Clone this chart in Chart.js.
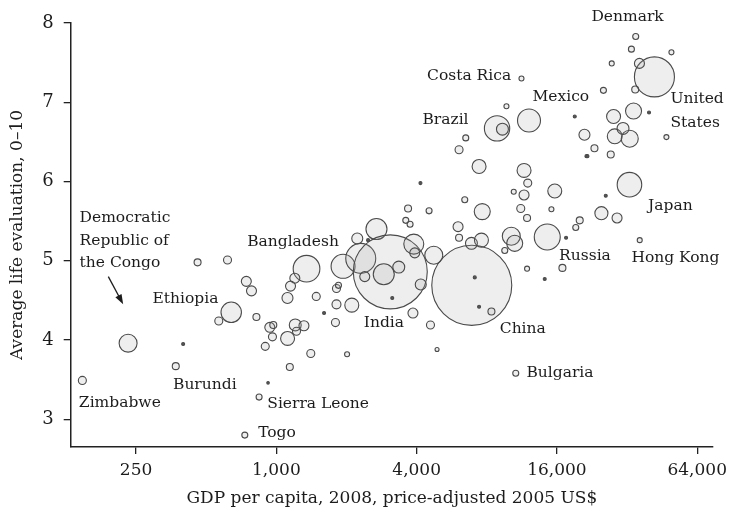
<!DOCTYPE html>
<html lang="en">
<head>
<meta charset="UTF-8">
<title>Life evaluation and GDP per capita, 2008</title>
<script src="https://cdn.jsdelivr.net/npm/chart.js"></script>
<style>
  body { margin: 0; background: #fff; }
  #wrap { width: 730px; height: 516px; }
</style>
</head>
<body>
<div id="wrap"><canvas id="lifeChart" width="730" height="516"></canvas></div>
<script>
    // axis ticks
    const xTicks = [250, 1000, 4000, 16000, 64000];
    const yTicks = [3, 4, 5, 6, 7, 8];

    // one entry per country: GDP per capita (2005 US$), life evaluation (0-10), population (millions)
    const gdpPerCapita = [
        147, 231, 398, 370, 459, 617, 640, 566, 743, 782,
        821, 937, 970, 962, 896, 1205, 1313, 1220, 1117, 1405,
        1142, 1602, 921, 843, 732, 1347, 1200, 1150, 1116, 1483,
        1811, 1847, 1811, 2107, 1793, 2011, 1933, 2302, 2224, 2689,
        2475, 3082, 2890, 3352, 2395, 3888, 3926, 4165, 3143, 3856,
        4585, 4893, 4737, 6896, 7103, 7412, 8375, 7648, 3674, 4522,
        3592, 3748, 6022, 6082, 6874, 7587, 6434, 7412, 11560, 11990,
        11560, 10440, 11190, 11910, 15660, 15150, 20040, 19270, 10190, 10540,
        9553, 14540, 17510, 11910, 16890, 14180, 21420, 4153, 11270, 9714,
        8853, 9337, 12140, 6498, 6082, 34850, 33400, 49600, 27500, 41930,
        36160, 34680, 25330, 19080, 39750, 34110, 28000, 28330, 32850, 30740,
        21000, 23180, 27230, 21630, 47200, 32760, 25920, 24830, 28980, 36260, 10650
    ];
    const lifeEvaluation = [
        3.49, 3.96, 3.95, 3.67, 4.98, 5.01, 4.35, 4.24, 4.74, 4.62,
        4.29, 4.16, 4.19, 4.04, 3.92, 4.19, 4.18, 4.11, 4.02, 3.83,
        3.66, 4.34, 3.46, 3.28, 2.80, 4.90, 4.78, 4.68, 4.53, 4.55,
        4.65, 4.69, 4.45, 4.44, 4.22, 3.82, 4.93, 5.03, 5.28, 5.40,
        5.26, 4.86, 4.83, 4.92, 4.80, 5.21, 5.10, 4.70, 4.53, 4.34,
        4.19, 3.88, 5.07, 4.69, 4.79, 4.42, 4.36, 5.62, 5.66, 5.63,
        5.51, 5.46, 5.43, 5.29, 5.22, 5.26, 5.77, 6.19, 6.14, 5.98,
        5.83, 5.87, 5.66, 5.54, 5.88, 5.65, 5.51, 5.42, 5.31, 5.22,
        5.13, 5.30, 5.29, 4.90, 4.91, 4.77, 6.32, 5.98, 7.30, 6.95,
        6.67, 6.66, 6.77, 6.55, 6.40, 7.83, 7.67, 7.63, 7.49, 7.32,
        7.49, 7.16, 7.15, 6.82, 6.87, 6.89, 6.82, 6.57, 6.54, 6.67,
        6.59, 6.42, 6.34, 6.32, 6.56, 5.96, 5.82, 5.60, 5.54, 5.26, 3.58
    ];
    const population = [
        13.5, 68, 1.9, 10.3, 10.3, 13.5, 88, 13.5, 21, 21,
        10.3, 21, 10.3, 13.5, 13.5, 30, 21, 13.5, 41, 13.5,
        10.3, 1.9, 1.4, 7.6, 7.6, 150, 21, 21, 25.5, 13.5,
        13.5, 7.6, 17, 41, 13.5, 5.3, 121, 189, 25.5, 93,
        1.9, 1152, 93, 30, 21, 84, 21, 25.5, 1.9, 21,
        13.5, 3.4, 68, 1347, 1.9, 1.9, 10.3, 54, 10.3, 7.6,
        7.6, 7.6, 21, 10.3, 30, 41, 7.6, 41, 41, 13.5,
        21, 5.3, 13.5, 10.3, 41, 5.3, 10.3, 7.6, 68, 54,
        7.6, 142, 1.9, 5.3, 10.3, 1.9, 1.9, 1.9, 5.3, 5.3,
        135, 30, 111, 7.6, 13.5, 7.6, 7.6, 5.3, 5.3, 337,
        21, 10.3, 7.6, 1.9, 1.9, 54, 41, 47, 61, 30,
        25.5, 10.3, 10.3, 1.9, 5.3, 127, 1.9, 36, 21, 5.3, 7.6
    ];

    // country names written on the chart, anchored at their left edge
    const labelText = ['Denmark', 'Costa Rica', 'Mexico', 'Brazil', 'United', 'States', 'Japan',
        'Russia', 'Hong Kong', 'China', 'Bulgaria', 'India', 'Bangladesh', 'Ethiopia',
        'Democratic', 'Republic of', 'the Congo', 'Zimbabwe', 'Burundi', 'Sierra Leone', 'Togo'];
    const labelGdp = [22500, 4432, 12560, 4236, 49120, 49120, 39380,
        16340, 33400, 9094, 11840, 2372, 749, 294,
        143, 143, 143, 142, 360, 914, 835];
    const labelLife = [8.076, 7.335, 7.07, 6.775, 7.037, 6.734, 5.689,
        5.058, 5.029, 4.145, 3.58, 4.221, 5.239, 4.515,
        5.534, 5.254, 4.97, 3.211, 3.429, 3.189, 2.832];

    // arrow from the Congo label to its bubble
    const arrowFrom = [190, 4.80];
    const arrowTo = [220, 4.45];

    const FONT = '"DejaVu Serif", serif';
    const INK = '#1c1c1c';

    const points = gdpPerCapita.map((g, i) => ({
        x: g,
        y: lifeEvaluation[i],
        r: 1.09 * Math.sqrt(population[i])
    }));

    // keep the plot area where the layout padding puts it
    function noPad(s) {
        s.paddingTop = 0; s.paddingBottom = 0;
        s.paddingLeft = 0; s.paddingRight = 0;
    }

    const annotate = {
        id: 'annotate',
        afterDatasetsDraw(chart) {
            const { ctx, scales: { x, y } } = chart;
            ctx.save();
            ctx.fillStyle = INK;
            ctx.font = '15.5px ' + FONT;
            ctx.textAlign = 'left';
            ctx.textBaseline = 'middle';
            labelText.forEach((t, i) => {
                ctx.fillText(t, x.getPixelForValue(labelGdp[i]), y.getPixelForValue(labelLife[i]));
            });

            // arrow
            const x0 = x.getPixelForValue(arrowFrom[0]), y0 = y.getPixelForValue(arrowFrom[1]);
            const x1 = x.getPixelForValue(arrowTo[0]), y1 = y.getPixelForValue(arrowTo[1]);
            const ang = Math.atan2(y1 - y0, x1 - x0);
            ctx.strokeStyle = INK;
            ctx.lineWidth = 1.3;
            ctx.beginPath();
            ctx.moveTo(x0, y0);
            ctx.lineTo(x1 - 6 * Math.cos(ang), y1 - 6 * Math.sin(ang));
            ctx.stroke();
            ctx.beginPath();
            ctx.moveTo(x1, y1);
            ctx.lineTo(x1 - 10 * Math.cos(ang) + 3.5 * Math.sin(ang), y1 - 10 * Math.sin(ang) - 3.5 * Math.cos(ang));
            ctx.lineTo(x1 - 10 * Math.cos(ang) - 3.5 * Math.sin(ang), y1 - 10 * Math.sin(ang) + 3.5 * Math.cos(ang));
            ctx.closePath();
            ctx.fill();
            ctx.restore();
        }
    };

    const ctx = document.getElementById('lifeChart').getContext('2d');
    new Chart(ctx, {
        type: 'bubble',
        data: {
            datasets: [{
                data: points,
                backgroundColor: c => (c.raw && c.raw.r < 1.9) ? '#555' : 'rgba(160,160,160,0.18)',
                borderColor: '#4a4a4a',
                borderWidth: 1.1,
                hoverRadius: 0,
                clip: false
            }]
        },
        options: {
            responsive: false,
            animation: false,
            events: [],
            layout: { autoPadding: false, padding: { top: 23, right: 17, left: 0, bottom: 0 } },
            plugins: {
                legend: { display: false },
                tooltip: { enabled: false }
            },
            scales: {
                x: {
                    type: 'logarithmic',
                    min: 131,
                    max: 74800,
                    bounds: 'data',
                    afterBuildTicks: s => { s.ticks = xTicks.map(v => ({ value: v })); },
                    afterFit: s => { s.height = 69; noPad(s); },
                    ticks: {
                        autoSkip: false,
                        maxRotation: 0,
                        padding: 6,
                        color: INK,
                        font: { family: FONT, size: 17 },
                        callback: v => Number(v).toLocaleString('en-US')
                    },
                    grid: { drawOnChartArea: false, drawTicks: true, tickLength: 7, color: '#222', lineWidth: 1.3 },
                    border: { display: true, color: '#222', width: 1.5 },
                    title: {
                        display: true,
                        text: 'GDP per capita, 2008, price-adjusted 2005 US$',
                        color: INK,
                        font: { family: FONT, size: 17 },
                        padding: { top: 0, bottom: 7 }
                    }
                },
                y: {
                    min: 2.65,
                    max: 8,
                    afterBuildTicks: s => { s.ticks = yTicks.map(v => ({ value: v })); },
                    afterFit: s => { s.width = 70.7; noPad(s); },
                    ticks: {
                        padding: 10,
                        color: INK,
                        font: { family: FONT, size: 18 }
                    },
                    grid: { drawOnChartArea: false, drawTicks: true, tickLength: 7, color: '#222', lineWidth: 1.3 },
                    border: { display: true, color: '#222', width: 1.5 },
                    title: {
                        display: true,
                        text: 'Average life evaluation, 0\u201310',
                        color: INK,
                        font: { family: FONT, size: 17 },
                        padding: { top: 7, bottom: 0 }
                    }
                }
            }
        },
        plugins: [annotate]
    });
</script>
</body>
</html>
